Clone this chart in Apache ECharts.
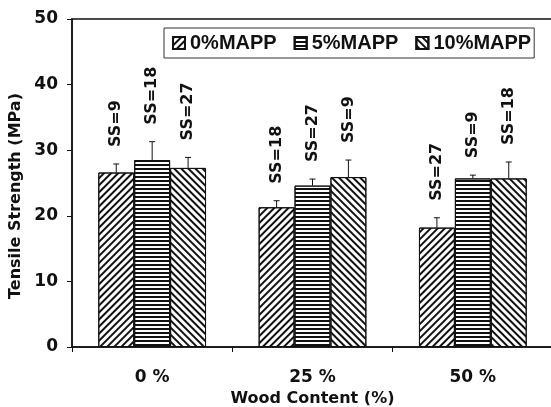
<!DOCTYPE html>
<html>
<head>
<meta charset="utf-8">
<script src="https://cdn.jsdelivr.net/npm/echarts@6/dist/echarts.min.js"></script>
<style>
html,body{margin:0;padding:0;background:#fff;}
#chart{width:551px;height:407px;}
</style>
</head>
<body>
<div id="chart"></div>
<script>
// ---- data ----
const categories = ['0 %', '25 %', '50 %'];
const seriesNames = ['0%MAPP', '5%MAPP', '10%MAPP'];
const strengthMAPP0 = [26.6, 21.3, 18.2];
const strengthMAPP5 = [28.5, 24.6, 25.7];
const strengthMAPP10 = [27.3, 25.9, 25.7];
const errorMAPP0 = [1.3, 1.0, 1.5];
const errorMAPP5 = [2.8, 1.0, 0.5];
const errorMAPP10 = [1.6, 2.6, 2.5];
const ssMAPP0 = [9, 18, 27];
const ssMAPP5 = [18, 27, 9];
const ssMAPP10 = [27, 9, 18];

const values = [strengthMAPP0, strengthMAPP5, strengthMAPP10];
const errors = [errorMAPP0, errorMAPP5, errorMAPP10];
const ssLabels = [ssMAPP0, ssMAPP5, ssMAPP10];

const BAR_FRAC = 0.224;
const INK = '#111';
const FONT = 'DejaVu Sans';

const decals = [
  { symbol: 'rect', symbolSize: 1, color: INK, dashArrayX: [1, 0], dashArrayY: [2, 3], rotation: -Math.PI / 4 },
  { symbol: 'rect', symbolSize: 1, color: INK, dashArrayX: [1, 0], dashArrayY: [2, 2], rotation: 0 },
  { symbol: 'rect', symbolSize: 1, color: INK, dashArrayX: [1, 0], dashArrayY: [2, 3], rotation: Math.PI / 4 }
];

const barSeries = seriesNames.map((name, s) => ({
  name: name,
  type: 'bar',
  data: values[s],
  barWidth: (BAR_FRAC * 100) + '%',
  barGap: '0%',
  itemStyle: { color: '#fff', borderColor: INK, borderWidth: 1, decal: decals[s] },
  emphasis: { disabled: true },
  z: 2
}));

const errData = [];
for (let s = 0; s < 3; s++) {
  for (let c = 0; c < categories.length; c++) {
    errData.push([c, values[s][c], errors[s][c], ssLabels[s][c], s]);
  }
}

const errSeries = {
  type: 'custom',
  data: errData,
  encode: { x: 0, y: 1 },
  z: 5,
  silent: true,
  renderItem: function (params, api) {
    const c = api.value(0), v = api.value(1), e = api.value(2), ss = api.value(3), s = api.value(4);
    const band = api.size([1, 0])[0];
    const bw = band * BAR_FRAC;
    const base = api.coord([c, v]);
    const x = base[0] + (s - 1) * bw;
    const yBar = base[1];
    const yTop = api.coord([c, v + e])[1];
    return {
      type: 'group',
      children: [
        { type: 'line', shape: { x1: x, y1: yBar, x2: x, y2: yTop }, style: { stroke: INK, lineWidth: 1 } },
        { type: 'line', shape: { x1: x - 3, y1: yTop, x2: x + 3, y2: yTop }, style: { stroke: INK, lineWidth: 1 } },
        { type: 'text', x: x, y: yTop - 17, rotation: Math.PI / 2,
          style: { text: 'SS=' + ss, fill: INK, fontFamily: FONT, fontWeight: 'bold', fontSize: 16, align: 'left', verticalAlign: 'middle' } }
      ]
    };
  }
};

const chart = echarts.init(document.getElementById('chart'), null, { renderer: 'canvas' });
chart.setOption({
  animation: false,
  backgroundColor: '#fff',
  grid: { left: 72, top: 19, width: 481, height: 328, outerBoundsMode: 'none', containLabel: false, show: true, borderColor: INK, borderWidth: 1.5, backgroundColor: 'transparent' },
  legend: {
    data: seriesNames,
    left: 164, top: 28,
    icon: 'rect',
    itemWidth: 12, itemHeight: 12, itemGap: 17,
    padding: [5, 3, 5, 8],
    borderColor: '#333', borderWidth: 1,
    selectedMode: false,
    textStyle: { fontFamily: 'Liberation Sans', fontWeight: 'bold', fontSize: 20, color: INK }
  },
  xAxis: {
    type: 'category',
    data: categories,
    axisLine: { lineStyle: { color: INK, width: 1.5 } },
    axisTick: { show: true, length: 5, alignWithLabel: false, lineStyle: { color: INK, width: 1 } },
    axisLabel: { fontFamily: FONT, fontWeight: 'bold', fontSize: 17, color: INK, margin: 22 },
    name: 'Wood Content (%)',
    nameLocation: 'middle',
    nameGap: 44,
    nameTextStyle: { fontFamily: FONT, fontWeight: 'bold', fontSize: 16, color: INK }
  },
  yAxis: {
    type: 'value',
    min: 0, max: 50, interval: 10,
    splitLine: { show: false },
    axisLine: { show: true, lineStyle: { color: INK, width: 1.5 } },
    axisTick: { show: true, length: 5, lineStyle: { color: INK, width: 1 } },
    axisLabel: { fontFamily: FONT, fontWeight: 'bold', fontSize: 17, color: INK, margin: 14 },
    name: 'Tensile Strength (MPa)',
    nameLocation: 'middle',
    nameGap: 48,
    nameTextStyle: { fontFamily: FONT, fontWeight: 'bold', fontSize: 16, color: INK, padding: [0, 26, 0, 0] }
  },
  series: barSeries.concat([errSeries])
});
</script>
</body>
</html>
